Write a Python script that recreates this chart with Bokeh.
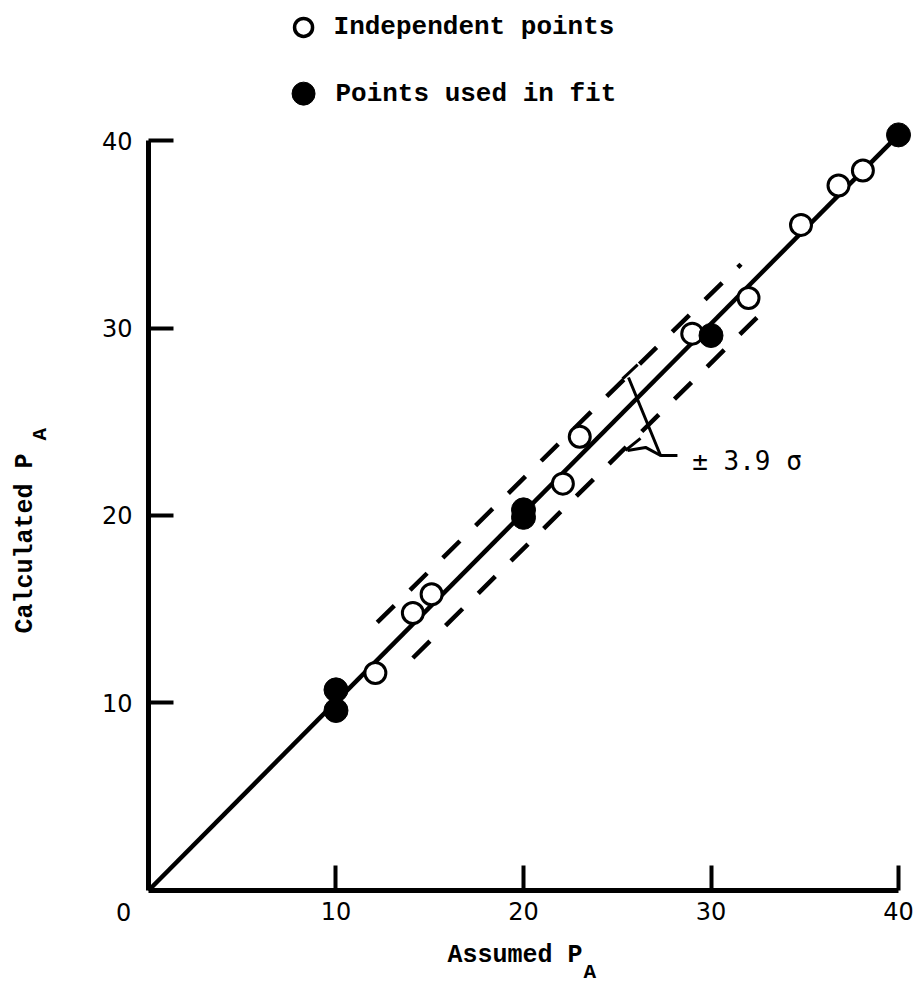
from bokeh.plotting import figure
from bokeh.models import Range1d, FixedTicker, Label
from bokeh.embed import file_html
from bokeh.resources import INLINE

# ---- data ----
open_x = [12.1, 14.1, 15.1, 22.1, 23.0, 29.0, 32.0, 34.8, 36.8, 38.1]
open_y = [11.6, 14.8, 15.8, 21.7, 24.2, 29.7, 31.6, 35.5, 37.6, 38.4]
fit_x = [10, 10, 20, 20, 30, 40]
fit_y = [10.7, 9.6, 20.3, 19.9, 29.6, 40.3]
line_x = [0, 40]
line_y = [0, 40.3]
upper_x = [12.2, 31.6]
upper_y = [14.3, 33.4]
lower_x = [14.1, 33.2]
lower_y = [12.4, 31.3]
x_ticks = [10, 20, 30, 40]
y_ticks = [10, 20, 30, 40]
origin_label = "0"
legend_labels = ["Independent points", "Points used in fit"]
band_label = "\u00b1 3.9 \u03c3"
x_title = "Assumed P"
y_title = "Calculated P"
subscript = "A"

# bracket of the +-3.9 sigma annotation
bracket_x = [25.6, 27.31, 28.21]
bracket_y = [27.36, 23.2, 23.2]
cap_top_x = [25.28, 26.09]
cap_top_y = [27.29, 28.05]
tail_x = [27.31, 26.51, 25.55]
tail_y = [23.2, 23.63, 23.47]
cap_low_x = [25.44, 26.24]
cap_low_y = [23.47, 24.11]

# legend placement (data units)
legend_mx = [8.27, 8.27]
legend_my = [46.03, 42.5]
legend_tx = [9.87, 9.97]

W, H = 920, 985
p = figure(width=W, height=H, x_range=Range1d(-7.893, 41.173), y_range=Range1d(-5.067, 47.467),
           output_backend="svg", toolbar_location=None,
           min_border_left=0, min_border_bottom=0, min_border_top=0, min_border_right=0)
p.outline_line_color = None
p.grid.visible = False
p.background_fill_color = "white"
p.border_fill_color = "white"

for ax, ticks in ((p.xaxis[0], x_ticks), (p.yaxis[0], y_ticks)):
    ax.fixed_location = 0
    ax.bounds = (0, 40)
    ax.ticker = FixedTicker(ticks=ticks)
    ax.axis_line_width = 5
    ax.axis_line_color = "black"
    ax.major_tick_line_width = 4
    ax.major_tick_line_color = "black"
    ax.major_tick_in = 25
    ax.major_tick_out = 0
    ax.minor_tick_line_color = None
    ax.major_label_text_font = "DejaVu Sans"
    ax.major_label_text_font_size = "24px"
    ax.major_label_text_color = "black"
p.xaxis.major_label_standoff = 12
p.yaxis.major_label_standoff = 16

# fit line and band
p.line(line_x, line_y, line_width=4.5, color="black")
p.line(upper_x, upper_y, line_width=4.5, color="black", line_dash="24 22")
p.line(lower_x, lower_y, line_width=4.5, color="black", line_dash="24 22")

# annotation bracket
for xs, ys in ((bracket_x, bracket_y), (cap_top_x, cap_top_y), (tail_x, tail_y), (cap_low_x, cap_low_y)):
    p.line(xs, ys, line_width=3, color="black")

# points
p.scatter(open_x, open_y, size=21, marker="circle", fill_color="white",
          line_color="black", line_width=3)
p.scatter(fit_x, fit_y, size=24, marker="circle", fill_color="black",
          line_color="black", line_width=1)

# legend
p.scatter([legend_mx[0]], [legend_my[0]], size=18, marker="circle", fill_color="white",
          line_color="black", line_width=3.5)
p.scatter([legend_mx[1]], [legend_my[1]], size=23, marker="circle", fill_color="black",
          line_color="black", line_width=1)
for tx, ty, t in zip(legend_tx, legend_my, legend_labels):
    p.add_layout(Label(x=tx, y=ty, text=t, text_font="Liberation Mono", text_font_style="bold",
                       text_font_size="26px", text_baseline="middle", text_align="left",
                       text_color="black"))

# band label
p.add_layout(Label(x=29.0, y=22.9, text=band_label, text_font="DejaVu Sans Mono",
                   text_font_size="26px", text_baseline="middle", text_align="left",
                   text_color="black"))

# origin label
p.add_layout(Label(x=-1.33, y=-1.17, text=origin_label, text_font="DejaVu Sans",
                   text_font_size="24px", text_baseline="middle", text_align="center",
                   text_color="black"))

# axis titles
p.add_layout(Label(x=15.95, y=-3.47, text=x_title, text_font="Liberation Mono", text_font_style="bold",
                   text_font_size="25px", text_baseline="middle", text_align="left",
                   text_color="black"))
p.add_layout(Label(x=23.2, y=-4.37, text=subscript, text_font="Liberation Mono", text_font_style="bold",
                   text_font_size="21px", text_baseline="middle", text_align="left",
                   text_color="black"))
p.add_layout(Label(x=-6.56, y=13.7, text=y_title, text_font="Liberation Mono", text_font_style="bold",
                   text_font_size="25px", text_baseline="middle", text_align="left", angle=1.5708,
                   text_color="black"))
p.add_layout(Label(x=-5.76, y=24.0, text=subscript, text_font="Liberation Mono", text_font_style="bold",
                   text_font_size="21px", text_baseline="middle", text_align="left", angle=1.5708,
                   text_color="black"))

open("out.html", "w").write(file_html(p, INLINE))
